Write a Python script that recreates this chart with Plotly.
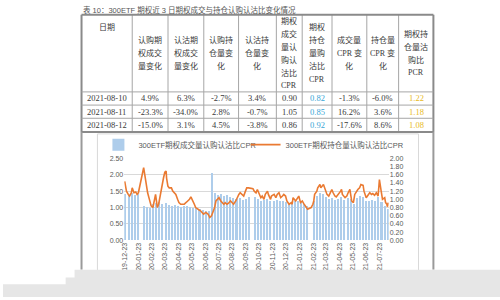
import plotly.graph_objects as go

W, H = 500, 300


def fx(px):
    return px / W


def fy(py):
    return 1 - py / H


# ---------------- table data ----------------
tbl_dates = ["2021-08-10", "2021-08-11", "2021-08-12"]
call_vol_chg = ["4.9%", "-23.3%", "-15.0%"]
put_vol_chg = ["6.3%", "-34.0%", "3.1%"]
call_oi_chg = ["-2.7%", "2.8%", "4.5%"]
put_oi_chg = ["3.4%", "-0.7%", "-3.8%"]
vol_cpr = ["0.90", "1.05", "0.86"]
oi_cpr = ["0.82", "0.85", "0.92"]
vol_cpr_chg = ["-1.3%", "16.2%", "-17.6%"]
oi_cpr_chg = ["-6.0%", "3.6%", "8.6%"]
oi_pcr = ["1.22", "1.18", "1.08"]
tbl_headers = [
    ["日期"],
    ["认购期", "权成交", "量变化"],
    ["认沽期", "权成交", "量变化"],
    ["认购持", "仓量变", "化"],
    ["认沽持", "仓量变", "化"],
    ["期权", "成交", "量认", "购认", "沽比", "CPR"],
    ["期权", "持仓", "量购", "沽比", "CPR"],
    ["成交量", "CPR 变", "化"],
    ["持仓量", "CPR 变", "化"],
    ["期权持", "仓量沽", "购比", "PCR"],
]

# ---------------- chart data ----------------
bar_weeks = [
    "2019-12-23", "2019-12-30", "2020-01-06", "2020-01-13", "2020-01-20",
    "2020-02-03", "2020-02-10", "2020-02-17", "2020-02-24",
    "2020-03-02", "2020-03-09", "2020-03-16", "2020-03-23", "2020-03-30",
    "2020-04-06", "2020-04-13", "2020-04-20", "2020-04-27",
    "2020-05-04", "2020-05-11", "2020-05-18", "2020-05-25",
    "2020-06-01", "2020-06-08", "2020-06-15", "2020-06-22", "2020-06-29",
    "2020-07-06", "2020-07-13", "2020-07-20", "2020-07-27",
    "2020-08-03", "2020-08-10", "2020-08-17", "2020-08-24", "2020-08-31",
    "2020-09-07", "2020-09-14", "2020-09-21", "2020-09-28",
    "2020-10-12", "2020-10-19", "2020-10-26",
    "2020-11-02", "2020-11-09", "2020-11-16", "2020-11-23", "2020-11-30",
    "2020-12-07", "2020-12-14", "2020-12-21", "2020-12-28",
    "2021-01-04", "2021-01-11", "2021-01-18", "2021-01-25",
    "2021-02-01", "2021-02-08", "2021-02-22",
    "2021-03-01", "2021-03-08", "2021-03-15", "2021-03-22", "2021-03-29",
    "2021-04-05", "2021-04-12", "2021-04-19", "2021-04-26",
    "2021-05-03", "2021-05-10", "2021-05-17", "2021-05-24", "2021-05-31",
    "2021-06-07", "2021-06-14", "2021-06-21", "2021-06-28",
    "2021-07-05", "2021-07-12", "2021-07-19", "2021-07-26",
    "2021-08-02", "2021-08-09",
]
bar_vol_cpr = [
    1.40, 1.38, 1.42, 1.36, 1.40,
    1.05, 1.00, 0.98, 1.10,
    1.12, 1.15, 1.10, 1.12, 1.08,
    1.05, 1.06, 1.04, 1.02,
    1.05, 1.03, 1.00, 0.98,
    0.97, 0.95, 0.92, 0.90, 0.88,
    2.05, 1.42, 1.38, 1.40,
    1.35, 1.38, 1.30, 1.28, 1.25,
    1.28, 1.22, 1.25, 1.30,
    1.32, 1.25, 1.20,
    1.22, 1.25, 1.18, 1.20, 1.22,
    1.18, 1.20, 1.15, 1.12,
    1.15, 1.18, 1.20, 1.15,
    1.10, 1.05, 1.20,
    1.35, 1.42, 1.40, 1.30, 1.25,
    1.28, 1.22, 1.25, 1.30,
    1.22, 1.28, 1.25, 1.10, 1.28,
    1.35, 1.32, 1.18, 1.20,
    1.22, 1.20, 1.30, 1.15,
    1.05, 0.94,
]

line_dates = [
    "2019-12-23", "2019-12-27", "2019-12-31", "2020-01-03", "2020-01-07", "2020-01-09",
    "2020-01-13", "2020-01-17", "2020-01-20", "2020-01-23", "2020-02-04", "2020-02-07",
    "2020-02-10", "2020-02-13", "2020-02-17", "2020-02-21", "2020-02-25", "2020-02-28",
    "2020-03-02", "2020-03-04", "2020-03-06", "2020-03-09", "2020-03-12", "2020-03-16",
    "2020-03-20", "2020-03-23", "2020-03-26", "2020-03-27", "2020-03-30", "2020-04-02",
    "2020-04-07", "2020-04-10", "2020-04-13", "2020-04-17", "2020-04-21", "2020-04-24",
    "2020-04-28", "2020-05-06", "2020-05-08", "2020-05-11", "2020-05-14", "2020-05-18",
    "2020-05-21", "2020-05-22", "2020-05-26", "2020-05-29", "2020-06-01", "2020-06-05",
    "2020-06-09", "2020-06-12", "2020-06-16", "2020-06-19", "2020-06-24", "2020-06-29",
    "2020-07-01", "2020-07-03", "2020-07-07", "2020-07-10", "2020-07-14", "2020-07-17",
    "2020-07-21", "2020-07-24", "2020-07-28", "2020-07-31", "2020-08-04", "2020-08-07",
    "2020-08-11", "2020-08-14", "2020-08-19", "2020-08-21", "2020-08-26", "2020-08-31",
    "2020-09-03", "2020-09-07", "2020-09-10", "2020-09-14", "2020-09-18", "2020-09-22",
    "2020-09-25", "2020-09-29", "2020-10-09", "2020-10-12", "2020-10-16", "2020-10-19",
    "2020-10-23", "2020-10-27", "2020-10-30", "2020-11-03", "2020-11-06", "2020-11-11",
    "2020-11-13", "2020-11-18", "2020-11-20", "2020-11-26", "2020-11-30", "2020-12-03",
    "2020-12-07", "2020-12-11", "2020-12-15", "2020-12-18", "2020-12-22", "2020-12-25",
    "2020-12-30", "2021-01-04", "2021-01-06", "2021-01-08", "2021-01-14", "2021-01-18",
    "2021-01-21", "2021-01-25", "2021-01-29", "2021-02-01", "2021-02-05", "2021-02-09",
    "2021-02-10", "2021-02-18", "2021-02-22", "2021-02-24", "2021-02-26", "2021-03-03",
    "2021-03-05", "2021-03-10", "2021-03-12", "2021-03-18", "2021-03-22", "2021-03-26",
    "2021-03-30", "2021-04-02", "2021-04-06", "2021-04-09", "2021-04-13", "2021-04-16",
    "2021-04-21", "2021-04-26", "2021-04-28", "2021-04-30", "2021-05-06", "2021-05-10",
    "2021-05-13", "2021-05-17", "2021-05-21", "2021-05-25", "2021-05-28", "2021-06-01",
    "2021-06-04", "2021-06-08", "2021-06-11", "2021-06-16", "2021-06-18", "2021-06-23",
    "2021-06-28", "2021-07-01", "2021-07-05", "2021-07-08", "2021-07-12", "2021-07-16",
    "2021-07-20", "2021-07-23", "2021-07-27", "2021-07-30", "2021-08-04", "2021-08-06",
    "2021-08-09", "2021-08-10", "2021-08-11", "2021-08-12",
]
line_oi_cpr = [
    1.44, 1.20, 1.12, 1.08, 1.16, 1.28,
    1.16, 1.18, 1.12, 1.16, 1.77, 1.52,
    1.32, 1.16, 1.00, 0.84, 0.80, 0.96,
    1.12, 0.96, 0.80, 0.88, 1.08, 1.28,
    1.52, 1.66, 1.69, 1.52, 1.32, 1.28,
    1.28, 1.20, 1.16, 1.12, 1.00, 0.92,
    0.88, 0.88, 0.90, 0.92, 0.96, 1.00,
    1.06, 1.04, 0.92, 0.88, 0.80, 0.76,
    0.74, 0.72, 0.66, 0.64, 0.68, 0.64,
    0.60, 0.56, 0.60, 0.68, 0.80, 0.96,
    1.00, 1.04, 0.96, 0.92, 0.88, 0.92,
    0.88, 0.90, 0.96, 0.94, 0.88, 0.96,
    1.04, 1.12, 1.16, 1.12, 1.08, 1.20,
    1.28, 1.28, 1.26, 1.20, 1.16, 1.24,
    1.12, 1.04, 1.08, 1.00, 1.12, 1.20,
    1.12, 1.00, 1.08, 1.12, 1.04, 1.12,
    1.16, 1.04, 1.08, 1.12, 1.08, 0.96,
    0.88, 0.92, 0.88, 1.04, 0.96, 1.04,
    1.08, 0.92, 0.96, 0.90, 0.84, 0.79,
    0.76, 0.80, 0.88, 0.96, 1.12, 1.20,
    1.28, 1.36, 1.28, 1.36, 1.24, 1.12,
    1.08, 1.16, 1.24, 1.16, 1.08, 1.06,
    1.12, 1.20, 1.24, 1.12, 1.04, 1.08,
    1.16, 1.24, 0.96, 0.92, 1.12, 1.20,
    1.24, 1.28, 1.36, 1.34, 1.20, 1.04,
    1.12, 1.16, 1.12, 1.14, 1.10, 1.16,
    1.08, 1.48, 1.20, 1.00, 1.04, 0.92,
    0.88, 0.82, 0.85, 0.92,
]
legend_names = ["300ETF期权成交量认购认沽比CPR", "300ETF期权持仓量认购认沽比CPR"]
title_text = "表 10：300ETF 期权近 3 日期权成交与持仓认购认沽比变化情况"

assert len(bar_weeks) == len(bar_vol_cpr)
assert len(line_dates) == len(line_oi_cpr)

# ---------------- styles / layout constants ----------------
SERIF = "Liberation Serif, Noto Sans CJK SC, serif"
SANS = "Liberation Sans, Noto Sans CJK SC, sans-serif"
BAR_COLOR = "#aecdeb"
LINE_COLOR = "#ea7a32"
WEEK_MS = 4.6 * 24 * 3600 * 1000
TXT = "#3a3a3a"
BLUE_TXT = "#3aa6d6"
YELLOW_TXT = "#e8b923"

COL_EDGES = [79, 130, 166, 202, 237, 275, 301, 331, 366, 398, 433]
ROW_EDGES = [11, 90, 103.5, 117, 131]
HEADER_MID = 50.5
HEADER_LINE = 13.3
DATE_HEADER_Y = 24

annotations = []
shapes = []

# ---- table (built from the table arrays) ----
columns = [tbl_dates, call_vol_chg, put_vol_chg, call_oi_chg, put_oi_chg,
           vol_cpr, oi_cpr, vol_cpr_chg, oi_cpr_chg, oi_pcr]
col_colors = [TXT] * 6 + [BLUE_TXT] + [TXT] * 2 + [YELLOW_TXT]

for ci, lines in enumerate(tbl_headers):
    cx = (COL_EDGES[ci] + COL_EDGES[ci + 1]) / 2
    n = len(lines)
    for li, line in enumerate(lines):
        if ci == 0:
            cy = DATE_HEADER_Y
        else:
            cy = HEADER_MID + (li - (n - 1) / 2) * HEADER_LINE
        annotations.append(dict(
            text=line, x=fx(cx), y=fy(cy), xref="paper", yref="paper",
            xanchor="center", yanchor="middle", showarrow=False,
            font=dict(family=SERIF, size=8, color=TXT),
        ))
    for ri, val in enumerate(columns[ci]):
        cy = (ROW_EDGES[ri + 1] + ROW_EDGES[ri + 2]) / 2
        annotations.append(dict(
            text=val, x=fx(cx), y=fy(cy), xref="paper", yref="paper",
            xanchor="center", yanchor="middle", showarrow=False,
            font=dict(family=SERIF, size=8.5, color=col_colors[ci]),
        ))

for i, xe in enumerate(COL_EDGES):
    outer = i in (0, len(COL_EDGES) - 1)
    shapes.append(dict(
        type="line", xref="paper", yref="paper",
        x0=fx(xe), x1=fx(xe), y0=fy(ROW_EDGES[-1]), y1=fy(ROW_EDGES[0]),
        line=dict(color="#8a8a8a" if outer else "#a6a6a6", width=2 if outer else 1),
    ))
for i, ye in enumerate(ROW_EDGES):
    outer = i in (0, len(ROW_EDGES) - 1)
    shapes.append(dict(
        type="line", xref="paper", yref="paper",
        x0=fx(COL_EDGES[0]), x1=fx(COL_EDGES[-1]), y0=fy(ye), y1=fy(ye),
        line=dict(color="#8a8a8a" if outer else "#a6a6a6", width=2 if outer else 1),
    ))

# page frame continuing below the table, chart frame and grey overlay
shapes += [
    dict(type="line", xref="paper", yref="paper", x0=fx(79), x1=fx(79), y0=fy(272), y1=fy(131),
         line=dict(color="#9a9a9a", width=2)),
    dict(type="line", xref="paper", yref="paper", x0=fx(433), x1=fx(433), y0=fy(272), y1=fy(131),
         line=dict(color="#9a9a9a", width=2)),
    dict(type="rect", xref="paper", yref="paper", x0=fx(95), x1=fx(418), y0=fy(285), y1=fy(133),
         line=dict(color="#d9d9d9", width=1), layer="below"),
    dict(type="rect", xref="paper", yref="paper", x0=fx(72), x1=1, y0=0, y1=fy(272),
         fillcolor="#e6e6e6", line=dict(width=0), layer="above"),
    dict(type="rect", xref="paper", yref="paper", x0=fx(63), x1=1, y0=0, y1=fy(280),
         fillcolor="#e6e6e6", line=dict(width=0), layer="above"),
    dict(type="rect", xref="paper", yref="paper", x0=0, x1=1, y0=0, y1=fy(287),
         fillcolor="#e6e6e6", line=dict(width=0), layer="above"),
]

annotations.append(dict(
    text=title_text, xref="paper", yref="paper", x=fx(78), y=1,
    xanchor="left", yanchor="top", yshift=1, showarrow=False,
    font=dict(family=SANS, size=7.5, color="#555555"),
))

fig = go.Figure()
fig.add_trace(go.Bar(
    x=bar_weeks, y=bar_vol_cpr, name=legend_names[0],
    width=WEEK_MS, offset=0,
    marker=dict(color=BAR_COLOR, line=dict(width=0)),
    yaxis="y", legend="legend", showlegend=True,
))
fig.add_trace(go.Scatter(
    x=line_dates, y=line_oi_cpr, name=legend_names[1], mode="lines",
    line=dict(color=LINE_COLOR, width=1.6),
    yaxis="y2", legend="legend2", showlegend=True,
))

tickfont = dict(family=SANS, size=7, color="#595959")
legend_font = dict(family=SANS, size=7.5, color="#595959")
fig.update_layout(
    width=W, height=H, autosize=False,
    margin=dict(l=0, r=0, t=0, b=0),
    paper_bgcolor="white", plot_bgcolor="white",
    bargap=0,
    xaxis=dict(
        domain=[fx(122), fx(388)],
        type="date", range=["2019-12-22", "2021-08-13"],
        tick0="2019-12-23", dtick="M1", tickformat="%y-%m-%d",
        tickangle=-90, tickfont=tickfont, ticks="",
        showgrid=False, showline=False, zeroline=False,
    ),
    yaxis=dict(
        domain=[fy(242), fy(158)], range=[0, 2.5], dtick=0.5,
        tickformat=".2f", tickfont=tickfont, ticks="",
        showgrid=True, gridcolor="#d9d9d9", gridwidth=1, zeroline=False,
    ),
    yaxis2=dict(
        overlaying="y", side="right", range=[0, 2.0], dtick=0.2,
        tickformat=".2f", tickfont=tickfont, ticks="",
        showgrid=False, zeroline=False,
    ),
    showlegend=True,
    legend=dict(
        orientation="h", x=fx(96), xanchor="left", y=fy(144), yanchor="middle",
        font=legend_font, bgcolor="rgba(0,0,0,0)", itemwidth=30, borderwidth=0,
    ),
    legend2=dict(
        orientation="h", x=fx(244), xanchor="left", y=fy(144), yanchor="middle",
        font=legend_font, bgcolor="rgba(0,0,0,0)", itemwidth=30, borderwidth=0,
    ),
    annotations=annotations,
    shapes=shapes,
)

fig.write_html("out.html")
